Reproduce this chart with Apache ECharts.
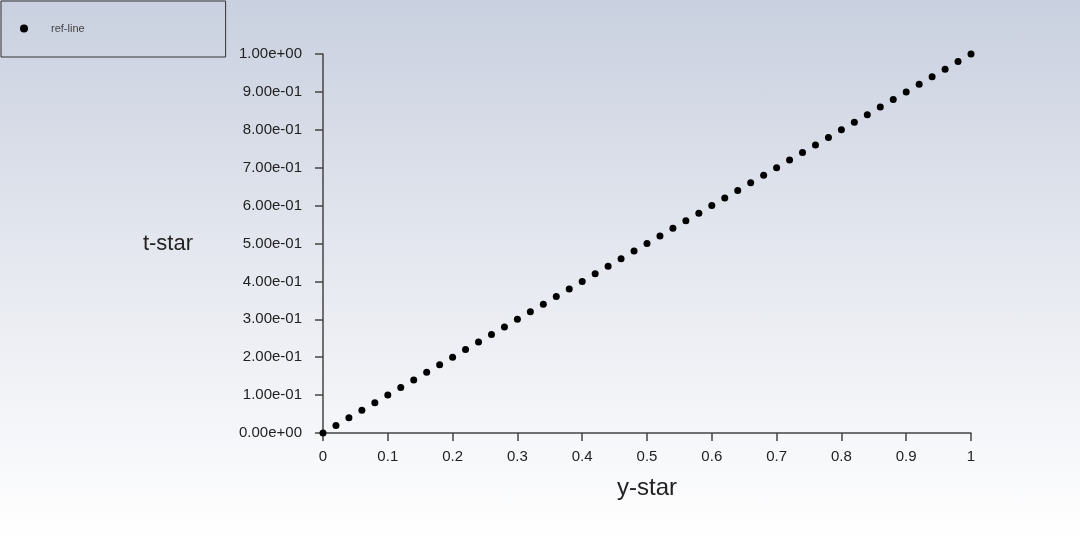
<!DOCTYPE html>
<html>
<head>
<meta charset="utf-8">
<script src="https://cdn.jsdelivr.net/npm/echarts@6/dist/echarts.min.js"></script>
<style>
html,body{margin:0;padding:0;}
#c{width:1080px;height:541px;background:linear-gradient(to bottom,#c9d0df 0%,#e6e9f0 50%,#ffffff 100%);}
</style>
</head>
<body>
<div id="c"></div>
<script>
var seriesName = 'ref-line';
var xLabel = 'y-star';
var yLabel = 't-star';
var yStar = [0,0.02,0.04,0.06,0.08,0.1,0.12,0.14,0.16,0.18,0.2,0.22,0.24,0.26,0.28,0.3,0.32,0.34,0.36,0.38,0.4,0.42,0.44,0.46,0.48,0.5,0.52,0.54,0.56,0.58,0.6,0.62,0.64,0.66,0.68,0.7,0.72,0.74,0.76,0.78,0.8,0.82,0.84,0.86,0.88,0.9,0.92,0.94,0.96,0.98,1];
var tStar = [0,0.02,0.04,0.06,0.08,0.1,0.12,0.14,0.16,0.18,0.2,0.22,0.24,0.26,0.28,0.3,0.32,0.34,0.36,0.38,0.4,0.42,0.44,0.46,0.48,0.5,0.52,0.54,0.56,0.58,0.6,0.62,0.64,0.66,0.68,0.7,0.72,0.74,0.76,0.78,0.8,0.82,0.84,0.86,0.88,0.9,0.92,0.94,0.96,0.98,1];

var pts = yStar.map(function(x,i){return [x,tStar[i]];});
function expFmt(v){
  var s = Number(v).toExponential(2);
  var m = s.split('e');
  var sign = m[1].charAt(0);
  var d = m[1].slice(1);
  if (d.length<2) d='0'+d;
  return m[0]+'e'+sign+d;
}
var font = 'Liberation Sans, Arial, sans-serif';
var chart = echarts.init(document.getElementById('c'));
chart.setOption({
  backgroundColor: 'transparent',
  animation: false,
  grid: {left: 323, right: 109, top: 54, bottom: 108},
  legend: {
    left: 1, top: 1,
    orient: 'vertical',
    padding: [22, 141, 23, 19],
    borderColor: '#333',
    borderWidth: 1,
    itemWidth: 8,
    itemHeight: 8,
    icon: 'circle',
    data: [seriesName],
    textStyle: {fontSize: 11, color: '#444', fontFamily: font, padding: [0, 0, 0, 18]}
  },
  xAxis: {
    type: 'value', min: 0, max: 1, interval: 0.1,
    name: xLabel, nameLocation: 'middle', nameGap: 43,
    nameTextStyle: {fontSize: 24, color: '#222', fontFamily: font},
    axisLine: {show: true, lineStyle: {color: '#444', width: 1.5}},
    axisTick: {show: true, length: 8, lineStyle: {color: '#444', width: 1.5}},
    axisLabel: {margin: 16, fontSize: 15, color: '#222', fontFamily: font,
      formatter: function(v){return String(Math.round(v*10)/10);}},
    splitLine: {show: false}
  },
  yAxis: {
    type: 'value', min: 0, max: 1, interval: 0.1,
    name: yLabel, nameLocation: 'middle', nameGap: 130, nameRotate: 0,
    nameTextStyle: {fontSize: 22, color: '#222', fontFamily: font, padding: [5, 0, 0, 0]},
    axisLine: {show: true, lineStyle: {color: '#444', width: 1.5}},
    axisTick: {show: true, length: 8, lineStyle: {color: '#444', width: 1.5}},
    axisLabel: {margin: 21, fontSize: 15, color: '#222', fontFamily: font, formatter: expFmt},
    splitLine: {show: false}
  },
  series: [{
    name: seriesName,
    type: 'scatter',
    data: pts,
    symbol: 'circle',
    symbolSize: 7,
    itemStyle: {color: '#000', opacity: 1},
    clip: false
  }]
});
</script>
</body>
</html>
